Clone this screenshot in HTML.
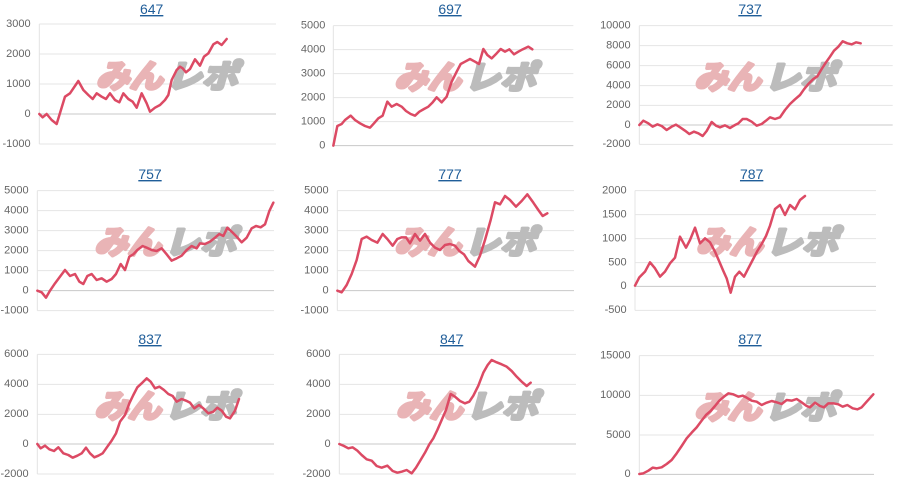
<!DOCTYPE html>
<html><head><meta charset="utf-8"><style>
html,body{margin:0;padding:0;background:#fff;}
svg{display:block}
.t{font-family:"Liberation Sans",sans-serif;font-size:42px;fill:#1f5d99;text-decoration:underline;text-anchor:middle}
.l{font-family:"Liberation Sans",sans-serif;font-size:33px;fill:#666;text-anchor:end;dominant-baseline:middle}
.g{stroke:#e4e4e4;stroke-width:3}
.z{stroke:#c8c8c8;stroke-width:3}
.s{fill:none;stroke:#dc4a64;stroke-width:7.5;stroke-linejoin:round;stroke-linecap:round}
.w1{font-family:"Noto Sans CJK JP",sans-serif;font-size:96px;font-weight:bold;font-style:italic;fill:#e9b4b6;stroke:#e9b4b6;stroke-width:10;stroke-linejoin:round}
.w2{font-family:"Noto Sans CJK JP",sans-serif;font-size:96px;font-weight:bold;font-style:italic;fill:#bcbcbc;stroke:#bcbcbc;stroke-width:10;stroke-linejoin:round}
</style></head><body>
<svg width="900" height="495" viewBox="0 0 2700 1485" xmlns="http://www.w3.org/2000/svg">
<defs>
<g id="wm"><text class="w1" x="0" y="0" textLength="200" lengthAdjust="spacingAndGlyphs">みん</text><text class="w2" x="210" y="0" textLength="215" lengthAdjust="spacingAndGlyphs">レポ</text></g>
</defs>

<!-- Chart 1 -->
<g transform="translate(0,0)">
<text class="t" x="455" y="42">647</text>
<line class="g" x1="118" y1="72" x2="118" y2="432"/>
<line class="g" x1="118" y1="72" x2="828" y2="72"/><line class="g" x1="118" y1="162" x2="828" y2="162"/><line class="g" x1="118" y1="252" x2="828" y2="252"/><line class="z" x1="118" y1="342" x2="828" y2="342"/><line class="g" x1="118" y1="432" x2="828" y2="432"/>
<text class="l" x="92" y="72">3000</text><text class="l" x="92" y="162">2000</text><text class="l" x="92" y="252">1000</text><text class="l" x="92" y="342">0</text><text class="l" x="92" y="432">-1000</text>
<use href="#wm" x="288" y="262"/>
<polyline class="s" points="118,342 128,352 140,342 155,360 170,372 195,290 210,280 235,243 250,270 265,285 278,297 290,280 305,290 318,297 330,280 345,300 358,307 370,280 385,297 398,305 410,323 425,280 440,310 450,335 465,323 480,315 495,300 505,285 515,240 530,210 540,200 548,205 558,217 570,207 585,178 600,197 612,170 625,160 640,133 652,126 665,135 680,117"/>
</g>

<!-- Chart 2 -->
<g transform="translate(900,0)">
<text class="t" x="450" y="42">697</text>
<line class="g" x1="100" y1="77" x2="100" y2="437"/>
<line class="g" x1="100" y1="77" x2="820" y2="77"/><line class="g" x1="100" y1="149" x2="820" y2="149"/><line class="g" x1="100" y1="221" x2="820" y2="221"/><line class="g" x1="100" y1="293" x2="820" y2="293"/><line class="g" x1="100" y1="365" x2="820" y2="365"/><line class="z" x1="100" y1="437" x2="820" y2="437"/>
<text class="l" x="76" y="77">5000</text><text class="l" x="76" y="149">4000</text><text class="l" x="76" y="221">3000</text><text class="l" x="76" y="293">2000</text><text class="l" x="76" y="365">1000</text><text class="l" x="76" y="437">0</text>
<use href="#wm" x="283" y="266"/>
<polyline class="s" points="100,437 112,378 125,372 135,360 152,347 165,360 180,370 195,378 210,383 222,370 235,355 248,347 262,305 275,320 290,312 305,320 318,333 332,342 345,347 358,335 372,327 385,320 398,307 410,292 425,307 440,290 455,245 470,215 482,192 495,185 510,177 525,185 537,192 550,147 562,165 575,175 590,160 602,147 615,155 628,148 642,163 655,155 668,148 685,140 697,148"/>
</g>

<!-- Chart 3 -->
<g transform="translate(1800,0)">
<text class="t" x="450" y="42">737</text>
<line class="g" x1="118" y1="77" x2="118" y2="433"/>
<line class="g" x1="118" y1="77" x2="878" y2="77"/><line class="g" x1="118" y1="137" x2="878" y2="137"/><line class="g" x1="118" y1="197" x2="878" y2="197"/><line class="g" x1="118" y1="257" x2="878" y2="257"/><line class="g" x1="118" y1="316" x2="878" y2="316"/><line class="z" x1="118" y1="375" x2="878" y2="375"/><line class="g" x1="118" y1="433" x2="878" y2="433"/>
<text class="l" x="92" y="77">10000</text><text class="l" x="92" y="137">8000</text><text class="l" x="92" y="197">6000</text><text class="l" x="92" y="257">4000</text><text class="l" x="92" y="316">2000</text><text class="l" x="92" y="375">0</text><text class="l" x="92" y="433">-2000</text>
<use href="#wm" x="283" y="266"/>
<polyline class="s" points="118,375 130,362 145,370 158,380 172,373 185,378 200,390 215,380 228,374 242,383 255,392 268,402 282,395 295,400 308,408 320,393 335,366 348,377 360,382 375,376 390,384 405,375 415,370 428,357 440,357 455,365 470,377 485,372 498,362 510,352 525,357 540,352 555,330 570,312 585,298 600,285 612,268 625,252 640,237 652,229 665,207 678,187 690,170 702,152 715,140 728,124 742,130 755,133 768,127 782,130"/>
</g>

<!-- Chart 4 -->
<g transform="translate(0,495)">
<text class="t" x="450" y="42">757</text>
<line class="g" x1="112" y1="77" x2="112" y2="437"/>
<line class="g" x1="112" y1="77" x2="822" y2="77"/><line class="g" x1="112" y1="137" x2="822" y2="137"/><line class="g" x1="112" y1="197" x2="822" y2="197"/><line class="g" x1="112" y1="257" x2="822" y2="257"/><line class="g" x1="112" y1="317" x2="822" y2="317"/><line class="z" x1="112" y1="377" x2="822" y2="377"/><line class="g" x1="112" y1="437" x2="822" y2="437"/>
<text class="l" x="86" y="77">5000</text><text class="l" x="86" y="137">4000</text><text class="l" x="86" y="197">3000</text><text class="l" x="86" y="257">2000</text><text class="l" x="86" y="317">1000</text><text class="l" x="86" y="377">0</text><text class="l" x="86" y="437">-1000</text>
<use href="#wm" x="283" y="266"/>
<polyline class="s" points="112,377 125,382 138,398 150,377 165,355 180,335 195,315 210,333 225,327 238,350 250,357 262,333 275,327 290,345 305,340 320,350 335,342 348,327 362,297 375,315 388,275 400,268 412,255 428,243 440,248 455,255 470,258 485,250 500,268 515,287 530,280 545,272 560,255 575,243 590,250 600,235 615,237 630,230 645,218 658,207 670,213 682,188 695,200 710,215 725,232 740,218 755,190 768,183 782,187 795,178 808,138 820,113"/>
</g>

<!-- Chart 5 -->
<g transform="translate(900,495)">
<text class="t" x="450" y="42">777</text>
<line class="g" x1="112" y1="77" x2="112" y2="437"/>
<line class="g" x1="112" y1="77" x2="822" y2="77"/><line class="g" x1="112" y1="137" x2="822" y2="137"/><line class="g" x1="112" y1="197" x2="822" y2="197"/><line class="g" x1="112" y1="257" x2="822" y2="257"/><line class="g" x1="112" y1="317" x2="822" y2="317"/><line class="z" x1="112" y1="377" x2="822" y2="377"/><line class="g" x1="112" y1="437" x2="822" y2="437"/>
<text class="l" x="86" y="77">5000</text><text class="l" x="86" y="137">4000</text><text class="l" x="86" y="197">3000</text><text class="l" x="86" y="257">2000</text><text class="l" x="86" y="317">1000</text><text class="l" x="86" y="377">0</text><text class="l" x="86" y="437">-1000</text>
<use href="#wm" x="283" y="266"/>
<polyline class="s" points="112,377 125,382 140,360 155,327 170,285 185,222 200,215 215,225 232,233 248,207 262,222 278,242 292,222 305,217 318,217 330,235 345,207 360,227 375,207 390,233 405,248 420,255 435,240 450,237 465,242 478,258 492,268 505,288 525,305 540,272 555,225 572,165 585,112 600,118 615,93 630,105 648,125 665,108 682,88 700,113 715,135 728,153 742,145"/>
</g>

<!-- Chart 6 -->
<g transform="translate(1800,495)">
<text class="t" x="455" y="42">787</text>
<line class="g" x1="105" y1="77" x2="105" y2="436"/>
<line class="g" x1="105" y1="77" x2="828" y2="77"/><line class="g" x1="105" y1="149" x2="828" y2="149"/><line class="g" x1="105" y1="221" x2="828" y2="221"/><line class="g" x1="105" y1="293" x2="828" y2="293"/><line class="z" x1="105" y1="364" x2="828" y2="364"/><line class="g" x1="105" y1="436" x2="828" y2="436"/>
<text class="l" x="80" y="77">2000</text><text class="l" x="80" y="149">1500</text><text class="l" x="80" y="221">1000</text><text class="l" x="80" y="293">500</text><text class="l" x="80" y="364">0</text><text class="l" x="80" y="436">-500</text>
<use href="#wm" x="288" y="266"/>
<polyline class="s" points="105,362 118,337 135,320 150,292 165,310 180,335 195,320 210,295 225,278 240,215 258,248 270,225 285,188 300,235 315,220 330,232 345,260 358,290 370,318 380,340 392,383 405,335 418,320 432,335 445,310 458,285 472,258 485,237 498,213 510,182 525,132 540,120 555,150 570,120 585,133 600,105 615,93"/>
</g>

<!-- Chart 7 -->
<g transform="translate(0,990)">
<text class="t" x="450" y="42">837</text>
<line class="g" x1="112" y1="73" x2="112" y2="432"/>
<line class="g" x1="112" y1="73" x2="822" y2="73"/><line class="g" x1="112" y1="163" x2="822" y2="163"/><line class="g" x1="112" y1="253" x2="822" y2="253"/><line class="z" x1="112" y1="342" x2="822" y2="342"/><line class="g" x1="112" y1="432" x2="822" y2="432"/>
<text class="l" x="86" y="73">6000</text><text class="l" x="86" y="163">4000</text><text class="l" x="86" y="253">2000</text><text class="l" x="86" y="342">0</text><text class="l" x="86" y="432">-2000</text>
<use href="#wm" x="283" y="262"/>
<polyline class="s" points="112,342 122,355 135,347 148,358 162,363 175,352 190,370 205,375 218,383 232,377 245,370 258,353 270,370 283,382 295,377 308,370 322,350 335,332 348,310 360,275 375,255 388,220 400,195 412,172 425,160 440,145 452,155 465,175 478,170 492,180 505,192 518,198 530,215 545,207 558,212 570,218 583,235 597,225 610,235 625,250 640,245 652,233 665,242 678,260 690,265 705,242 717,207"/>
</g>

<!-- Chart 8 -->
<g transform="translate(900,990)">
<text class="t" x="455" y="42">847</text>
<line class="g" x1="118" y1="73" x2="118" y2="432"/>
<line class="g" x1="118" y1="73" x2="828" y2="73"/><line class="g" x1="118" y1="163" x2="828" y2="163"/><line class="g" x1="118" y1="253" x2="828" y2="253"/><line class="z" x1="118" y1="342" x2="828" y2="342"/><line class="g" x1="118" y1="432" x2="828" y2="432"/>
<text class="l" x="92" y="73">6000</text><text class="l" x="92" y="163">4000</text><text class="l" x="92" y="253">2000</text><text class="l" x="92" y="342">0</text><text class="l" x="92" y="432">-2000</text>
<use href="#wm" x="288" y="262"/>
<polyline class="s" points="118,342 132,348 145,355 158,352 172,362 185,375 200,388 215,392 230,408 245,413 262,407 278,423 292,428 305,425 320,420 335,430 348,413 360,393 375,368 388,343 400,325 412,300 425,270 438,240 452,192 465,200 480,213 495,220 508,215 520,197 535,167 550,128 563,105 575,90 590,97 605,103 620,110 635,123 650,140 665,155 680,168 692,158"/>
</g>

<!-- Chart 9 -->
<g transform="translate(1800,990)">
<text class="t" x="450" y="42">877</text>
<line class="g" x1="118" y1="77" x2="118" y2="433"/>
<line class="g" x1="118" y1="77" x2="822" y2="77"/><line class="g" x1="118" y1="196" x2="822" y2="196"/><line class="g" x1="118" y1="315" x2="822" y2="315"/><line class="z" x1="118" y1="433" x2="822" y2="433"/>
<text class="l" x="92" y="77">15000</text><text class="l" x="92" y="196">10000</text><text class="l" x="92" y="315">5000</text><text class="l" x="92" y="433">0</text>
<use href="#wm" x="283" y="266"/>
<polyline class="s" points="118,432 130,430 145,422 158,413 170,415 185,412 200,402 215,390 230,370 245,348 260,325 275,308 290,292 305,272 318,255 332,243 345,228 358,212 372,200 385,190 400,193 415,200 428,197 440,203 455,212 470,215 485,225 500,218 515,213 530,217 545,222 560,210 575,212 590,207 605,217 620,228 630,232 645,218 660,228 672,232 685,220 700,220 715,223 728,230 742,225 758,235 772,238 785,232 800,215 820,193"/>
</g>
</svg>
</body></html>
